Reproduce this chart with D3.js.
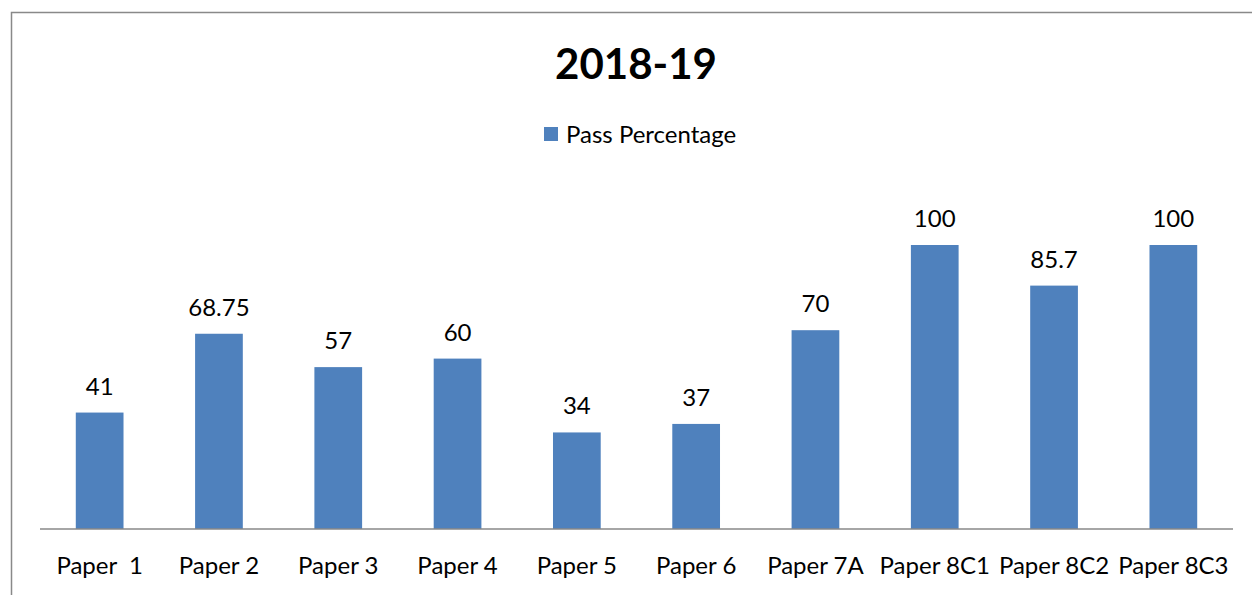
<!DOCTYPE html>
<html><head><meta charset="utf-8">
<script src="https://cdn.jsdelivr.net/npm/d3@7"></script>
<style>body{margin:0;background:#fff}svg{display:block}text{font-family:Lato,"Open Sans",sans-serif}</style>
</head><body><svg id="c" width="1252" height="595"></svg>
<script>
const categories=["Paper  1","Paper 2","Paper 3","Paper 4","Paper 5","Paper 6","Paper 7A","Paper 8C1","Paper 8C2","Paper 8C3"];
const labels=["41","68.75","57","60","34","37","70","100","85.7","100"];
const values=[41,68.75,57,60,34,37,70,100,85.7,100];
const seriesName="Pass Percentage";
const title="2018-19";
const svg=d3.select("#c");
svg.append("path").attr("d","M11.5,595V12.5H1252").attr("fill","none").attr("stroke","#898989").attr("stroke-width",1.5);
const x=d3.scaleBand().domain(categories).range([40,1233]).paddingInner(0.6).paddingOuter(0.3);
const y=d3.scaleLinear().domain([0,100]).range([529,245]);
svg.append("text").attr("x",636).attr("y",79).attr("text-anchor","middle").attr("font-weight","bold").attr("font-size",42).text(title);
svg.append("rect").attr("x",544).attr("y",127).attr("width",14).attr("height",14).attr("fill","#4f81bd");
svg.append("text").attr("x",566).attr("y",143).attr("font-size",24).text(seriesName);
svg.selectAll(".bar").data(values).join("rect").attr("x",(d,i)=>x(categories[i])).attr("width",x.bandwidth())
 .attr("y",d=>y(d)).attr("height",d=>y(0)-y(d)).attr("fill","#4f81bd");
svg.selectAll(".lbl").data(values).join("text").attr("x",(d,i)=>x(categories[i])+x.bandwidth()/2).attr("y",d=>y(d)-18)
 .attr("text-anchor","middle").attr("font-size",24).text((d,i)=>labels[i]);
const ax=svg.append("g").attr("transform","translate(0,529)").call(d3.axisBottom(x).tickSize(0).tickPadding(0));
ax.select(".domain").attr("stroke","#898989").attr("stroke-width",1.5).attr("d","M40,0H1233");
ax.selectAll("text").attr("font-size",24).attr("fill","#000").attr("dy",0).attr("y",45).style("white-space","pre").attr("font-family","Lato,'Open Sans',sans-serif");
</script></body></html>
